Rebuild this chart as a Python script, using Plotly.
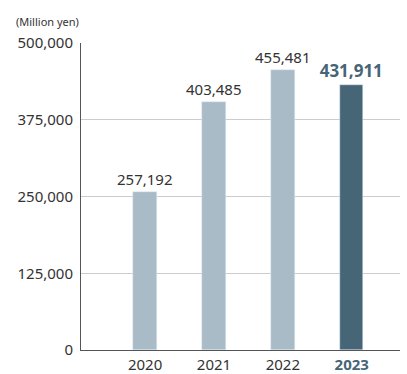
import plotly.graph_objects as go

years = ["2020", "2021", "2022", "2023"]
values = [257192, 403485, 455481, 431911]
y_ticks = [0, 125000, 250000, 375000, 500000]
y_tick_text = ["0", "125,000", "250,000", "375,000", "500,000"]

light = "#a9bbc6"
dark = "#466577"
colors = [light, light, light, dark]

fig = go.Figure()
fig.add_trace(go.Bar(
    x=list(range(len(years))), y=values, marker_color=colors, width=0.34,
    text=[f"{v:,}" if i < 3 else f"<b>{v:,}</b>" for i, v in enumerate(values)],
    textposition="outside", cliponaxis=False, constraintext="none",
    textfont=dict(size=[15, 15, 15, 17], color=["#333333"] * 3 + [dark]),
    hoverinfo="skip",
))

fig.update_layout(
    width=407, height=374,
    margin=dict(l=81, r=7, t=43, b=24, autoexpand=False),
    paper_bgcolor="white", plot_bgcolor="white",
    font=dict(family="Noto Sans", color="#333333", size=14),
    showlegend=False,
    xaxis=dict(
        range=[-0.93, 3.7], automargin=False,
        tickvals=list(range(len(years))),
        ticktext=years[:3] + [f"<b><span style='color:{dark}'>{years[3]}</span></b>"],
        showgrid=False, showline=True, linecolor="#555555", linewidth=1,
        ticks="", ticklabelstandoff=1,
        tickfont=dict(size=15, color="#333333"), zeroline=False,
    ),
    yaxis=dict(
        range=[0, 500000], tickvals=y_ticks, ticktext=y_tick_text, automargin=False,
        showgrid=True, gridcolor="#cccccc", gridwidth=1,
        showline=True, linecolor="#555555", linewidth=1,
        ticks="", ticklabelstandoff=4,
        tickfont=dict(size=15, color="#333333"), zeroline=False,
    ),
    bargap=0,
)
fig.add_annotation(x=0, y=1, xref="paper", yref="paper", xanchor="right", yanchor="bottom",
                   xshift=0, yshift=12, text="(Million yen)", showarrow=False,
                   font=dict(size=11, color="#333333"))
fig.write_html("out.html")
